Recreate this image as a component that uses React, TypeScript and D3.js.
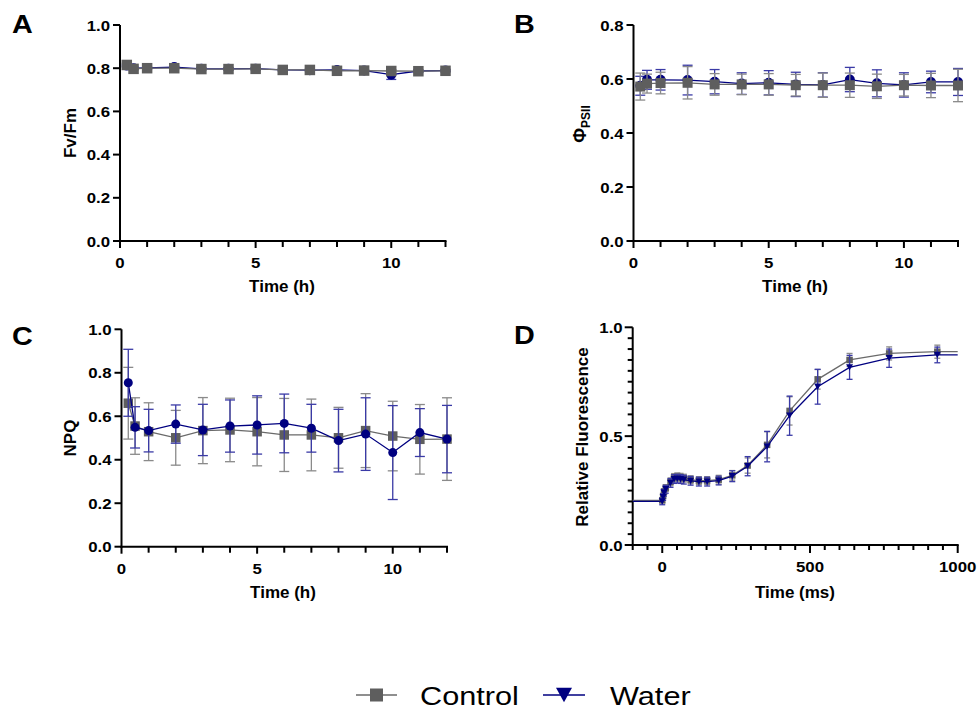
import React from 'react';
import * as d3 from 'd3';

// ---------- DATA ----------
const hours = [0.25, 0.5, 1, 2, 3, 4, 5, 6, 7, 8, 9, 10, 11, 12];

const fvfmControl = [0.815, 0.797, 0.8, 0.8, 0.796, 0.796, 0.797, 0.792, 0.792, 0.788, 0.789, 0.787, 0.786, 0.788];
const fvfmControlErr = [0.008, 0.005, 0.005, 0.005, 0.005, 0.005, 0.005, 0.005, 0.005, 0.005, 0.005, 0.006, 0.005, 0.005];
const fvfmWater = [0.812, 0.8, 0.801, 0.805, 0.797, 0.797, 0.798, 0.792, 0.791, 0.792, 0.789, 0.77, 0.787, 0.789];
const fvfmWaterErr = [0.006, 0.005, 0.005, 0.005, 0.005, 0.005, 0.005, 0.005, 0.005, 0.005, 0.005, 0.022, 0.005, 0.005];

const phiControl = [0.572, 0.583, 0.585, 0.586, 0.58, 0.58, 0.58, 0.577, 0.577, 0.577, 0.573, 0.577, 0.576, 0.576];
const phiControlErr = [0.05, 0.035, 0.04, 0.06, 0.04, 0.038, 0.04, 0.04, 0.045, 0.045, 0.045, 0.04, 0.045, 0.06];
const phiWater = [0.575, 0.597, 0.597, 0.596, 0.59, 0.583, 0.586, 0.58, 0.578, 0.598, 0.584, 0.578, 0.589, 0.589];
const phiWaterErr = [0.035, 0.035, 0.038, 0.055, 0.045, 0.04, 0.045, 0.045, 0.045, 0.045, 0.05, 0.045, 0.04, 0.05];

const npqControl = [0.66, 0.555, 0.529, 0.501, 0.534, 0.537, 0.529, 0.514, 0.514, 0.501, 0.534, 0.509, 0.494, 0.495];
const npqControlErr = [0.165, 0.13, 0.133, 0.126, 0.152, 0.146, 0.157, 0.168, 0.165, 0.14, 0.17, 0.16, 0.16, 0.19];
const npqWater = [0.754, 0.549, 0.534, 0.564, 0.537, 0.555, 0.56, 0.567, 0.545, 0.488, 0.518, 0.433, 0.525, 0.495];
const npqWaterErr = [0.154, 0.095, 0.098, 0.088, 0.118, 0.12, 0.134, 0.135, 0.11, 0.144, 0.167, 0.216, 0.11, 0.155];

const ojipTime = [0, 3, 6, 12, 28, 40, 51, 62, 73, 96, 124, 152, 191, 237, 289, 355, 431, 526, 634, 768, 931];
const ojipControl = [0.205, 0.225, 0.245, 0.262, 0.29, 0.31, 0.313, 0.311, 0.307, 0.3, 0.296, 0.296, 0.3, 0.32, 0.365, 0.46, 0.616, 0.761, 0.85, 0.88, 0.888];
const ojipControlErr = [0.01, 0.01, 0.012, 0.015, 0.018, 0.018, 0.018, 0.018, 0.018, 0.018, 0.018, 0.018, 0.02, 0.022, 0.035, 0.06, 0.065, 0.045, 0.03, 0.03, 0.03];
const ojipWater = [0.2, 0.22, 0.24, 0.256, 0.285, 0.303, 0.305, 0.303, 0.3, 0.295, 0.291, 0.291, 0.296, 0.316, 0.362, 0.452, 0.594, 0.727, 0.816, 0.858, 0.873];
const ojipWaterErr = [0.015, 0.015, 0.015, 0.018, 0.02, 0.02, 0.02, 0.02, 0.02, 0.02, 0.02, 0.02, 0.02, 0.025, 0.044, 0.07, 0.09, 0.08, 0.055, 0.042, 0.036];

const hourTicks = [0, 1, 2, 3, 4, 5, 6, 7, 8, 9, 10, 11, 12];
const hourLabels = [0, 5, 10];
const msLabels = [0, 500, 1000];

// ---------- STYLE ----------
const GRAY = '#5e5e5e';
const GRAY_LINE = '#6a6a6a';
const GRAY_ERR = '#8a8a8a';
const NAVY = '#000080';
const NAVY_ERR = '#3a3aa6';
const FONT = '"Liberation Sans", Arial, sans-serif';

type TProps = {
  x: number; y: number; size: number; anchor?: string; sx?: number; rot?: number;
  weight?: string | number; children: React.ReactNode;
};
const T = ({ x, y, size, anchor = 'middle', sx = 1, rot = 0, weight = 'bold', children }: TProps) => (
  <text
    transform={`translate(${x},${y}) scale(${sx},1) rotate(${rot})`}
    fontFamily={FONT}
    fontSize={size}
    fontWeight={weight}
    textAnchor={anchor}
    fill="#000"
  >
    {children}
  </text>
);

type Series = {
  x: number[]; y: number[]; err: number[]; color: string; errColor: string; lineColor: string;
  marker: 'square' | 'circle' | 'tri'; size: number; cap: number; extend?: boolean;
};

function Marker({ type, cx, cy, size, color }: { type: string; cx: number; cy: number; size: number; color: string }) {
  if (type === 'square') return <rect x={cx - size / 2} y={cy - size / 2} width={size} height={size} fill={color} />;
  if (type === 'circle') return <circle cx={cx} cy={cy} r={size / 2} fill={color} />;
  const h = size * 0.9;
  return (
    <path
      d={`M${cx - size / 2},${cy - h / 2}L${cx + size / 2},${cy - h / 2}L${cx},${cy + h / 2}Z`}
      fill={color}
    />
  );
}

function SeriesG({ s, xs, ys }: { s: Series; xs: d3.ScaleLinear<number, number>; ys: d3.ScaleLinear<number, number> }) {
  let pts: [number, number][] = s.x.map((t, i) => [xs(t), ys(s.y[i])]);
  if (s.extend) {
    const [d0, d1] = xs.domain();
    pts = [[xs(d0), ys(s.y[0])], ...pts, [xs(d1), ys(s.y[s.y.length - 1])]];
  }
  const line = d3.line()(pts) || '';
  return (
    <g>
      <path d={line} fill="none" stroke={s.lineColor} strokeWidth={1.3} />
      {s.x.map((t, i) => {
        const cx = xs(t);
        const top = ys(s.y[i] + s.err[i]);
        const bot = ys(s.y[i] - s.err[i]);
        return (
          <g key={'e' + i} stroke={s.errColor} strokeWidth={1.3}>
            <line x1={cx} x2={cx} y1={top} y2={bot} />
            <line x1={cx - s.cap / 2} x2={cx + s.cap / 2} y1={top} y2={top} />
            <line x1={cx - s.cap / 2} x2={cx + s.cap / 2} y1={bot} y2={bot} />
          </g>
        );
      })}
      {s.x.map((t, i) => (
        <Marker key={'m' + i} type={s.marker} cx={xs(t)} cy={ys(s.y[i])} size={s.size} color={s.color} />
      ))}
    </g>
  );
}

type AxisCfg = {
  xs: d3.ScaleLinear<number, number>; ys: d3.ScaleLinear<number, number>;
  xTicks: number[]; xLabels: number[]; yTicks: number[]; yLabels: number[];
  yFmt: (v: number) => string; xMinorLen: number; xMajorLen: number; yMinorLen: number; yMajorLen: number;
};

function Axes({ c }: { c: AxisCfg }) {
  const [x0, x1] = c.xs.range();
  const [yb, yt] = c.ys.range();
  return (
    <g>
      <g stroke="#000" strokeWidth={2}>
        <line x1={x0} x2={x0} y1={yt} y2={yb + 1} />
        <line x1={x0 - 1} x2={x1 + 1} y1={yb} y2={yb} />
        {c.xTicks.map((t) => {
          const major = c.xLabels.includes(t);
          return <line key={'xt' + t} x1={c.xs(t)} x2={c.xs(t)} y1={yb} y2={yb + (major ? c.xMajorLen : c.xMinorLen)} />;
        })}
        {c.yTicks.map((t) => {
          const major = c.yLabels.some((l) => Math.abs(l - t) < 1e-9);
          return <line key={'yt' + t} x1={x0 - (major ? c.yMajorLen : c.yMinorLen)} x2={x0} y1={c.ys(t)} y2={c.ys(t)} />;
        })}
      </g>
      {c.xLabels.map((t) => (
        <T key={'xl' + t} x={c.xs(t)} y={yb + 27} size={15} sx={1.12}>{String(t)}</T>
      ))}
      {c.yLabels.map((t) => (
        <T key={'yl' + t} x={x0 - 10} y={c.ys(t) + 5.5} size={15} sx={1.12} anchor="end">{c.yFmt(t)}</T>
      ))}
    </g>
  );
}

export default function App() {
  const f1 = d3.format('.1f');

  // Panel A
  const xA = d3.scaleLinear().domain([0, 12]).range([120, 445.5]);
  const yA = d3.scaleLinear().domain([0, 1]).range([241, 25]);
  // Panel B
  const xB = d3.scaleLinear().domain([0, 12]).range([633.5, 958]);
  const yB = d3.scaleLinear().domain([0, 0.8]).range([241, 25]);
  // Panel C
  const xC = d3.scaleLinear().domain([0, 12]).range([121.5, 447]);
  const yC = d3.scaleLinear().domain([0, 1]).range([546.7, 329.3]);
  // Panel D
  const xD = d3.scaleLinear().domain([-100, 1000]).range([632.7, 957.7]);
  const yD = d3.scaleLinear().domain([0, 1]).range([545, 327.3]);

  const yTicks02 = d3.range(0, 1.0001, 0.2);
  const yTicksB = d3.range(0, 0.8001, 0.2);
  const msTicks = d3.range(-100, 1000.001, 50);
  const yTicksD = d3.range(0, 1.0001, 0.05);

  const hourAxis = { xTicks: hourTicks, xLabels: hourLabels, xMinorLen: 6, xMajorLen: 7, yMinorLen: 7, yMajorLen: 7 };

  const sq = (x: number[], y: number[], err: number[], size: number, cap: number): Series => ({
    x, y, err, color: GRAY, errColor: GRAY_ERR, lineColor: GRAY_LINE, marker: 'square', size, cap,
  });
  const wc = (x: number[], y: number[], err: number[], size: number, cap: number, marker: 'circle' | 'tri'): Series => ({
    x, y, err, color: NAVY, errColor: NAVY_ERR, lineColor: NAVY, marker, size, cap,
  });

  return (
    <svg width={978} height={713} style={{ position: 'absolute', left: 0, top: 0, background: '#fff' }}>
      <rect width={978} height={713} fill="#fff" />

      {/* Panel labels */}
      <T x={12} y={33} size={25} sx={1.15} anchor="start">A</T>
      <T x={514} y={33} size={25} sx={1.15} anchor="start">B</T>
      <T x={12} y={345} size={25} sx={1.15} anchor="start">C</T>
      <T x={514} y={344} size={25} sx={1.15} anchor="start">D</T>

      {/* Panel A */}
      <Axes c={{ xs: xA, ys: yA, yTicks: yTicks02, yLabels: yTicks02, yFmt: f1, ...hourAxis }} />
      <SeriesG s={wc(hours, fvfmWater, fvfmWaterErr, 10, 10, 'circle')} xs={xA} ys={yA} />
      <SeriesG s={sq(hours, fvfmControl, fvfmControlErr, 10.5, 10)} xs={xA} ys={yA} />
      <T x={76} y={133} size={17} rot={-90}>Fv/Fm</T>
      <T x={282} y={292} size={17}>Time (h)</T>

      {/* Panel B */}
      <Axes c={{ xs: xB, ys: yB, yTicks: yTicksB, yLabels: yTicksB, yFmt: f1, ...hourAxis }} />
      <SeriesG s={wc(hours, phiWater, phiWaterErr, 10, 10, 'circle')} xs={xB} ys={yB} />
      <SeriesG s={sq(hours, phiControl, phiControlErr, 10, 10)} xs={xB} ys={yB} />
      <text transform="translate(586,124) rotate(-90)" fontFamily={FONT} fontWeight="bold" textAnchor="middle" fill="#000">
        <tspan fontSize={18}>Φ</tspan>
        <tspan fontSize={12} dy={4}>PSII</tspan>
      </text>
      <T x={795} y={292} size={17}>Time (h)</T>

      {/* Panel C */}
      <Axes c={{ xs: xC, ys: yC, yTicks: yTicks02, yLabels: yTicks02, yFmt: f1, ...hourAxis }} />
      <SeriesG s={sq(hours, npqControl, npqControlErr, 9.5, 10)} xs={xC} ys={yC} />
      <SeriesG s={wc(hours, npqWater, npqWaterErr, 9, 10, 'circle')} xs={xC} ys={yC} />
      <T x={76} y={438} size={17} rot={-90}>NPQ</T>
      <T x={283} y={598} size={17}>Time (h)</T>

      {/* Panel D */}
      <Axes c={{
        xs: xD, ys: yD, xTicks: msTicks, xLabels: msLabels, yTicks: yTicksD, yLabels: [0, 0.5, 1],
        yFmt: f1, xMinorLen: 5, xMajorLen: 8, yMinorLen: 5, yMajorLen: 8,
      }} />
      <SeriesG s={{ ...sq(ojipTime, ojipControl, ojipControlErr, 6.5, 6), extend: true }} xs={xD} ys={yD} />
      <SeriesG s={{ ...wc(ojipTime, ojipWater, ojipWaterErr, 7, 6, 'tri'), extend: true }} xs={xD} ys={yD} />
      <T x={588} y={437} size={17} rot={-90}>Relative Fluorescence</T>
      <T x={795} y={598} size={17}>Time (ms)</T>

      {/* Legend */}
      <line x1={356} x2={397} y1={695} y2={695} stroke={GRAY_LINE} strokeWidth={1.5} />
      <Marker type="square" cx={376.5} cy={695} size={13} color={GRAY} />
      <T x={420} y={705} size={26} sx={1.18} anchor="start" weight="normal">Control</T>
      <line x1={543} x2={585} y1={695} y2={695} stroke={NAVY} strokeWidth={1.5} />
      <Marker type="tri" cx={564} cy={695} size={16} color={NAVY} />
      <T x={610} y={705} size={26} sx={1.18} anchor="start" weight="normal">Water</T>
    </svg>
  );
}
